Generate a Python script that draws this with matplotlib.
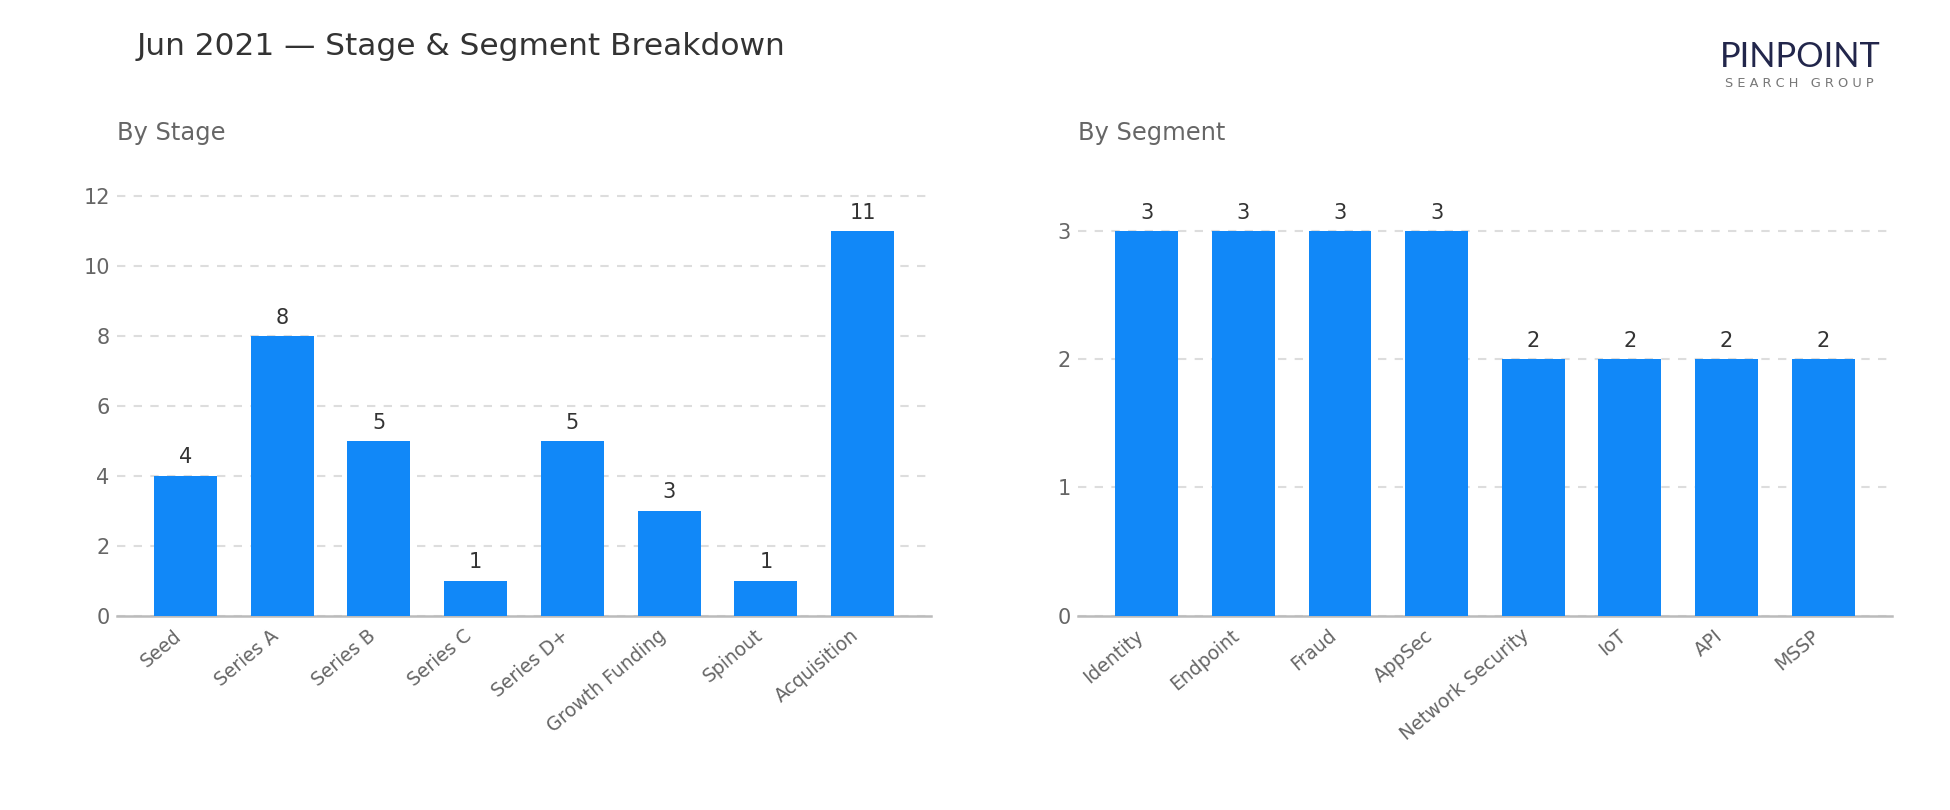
import matplotlib
matplotlib.use("Agg")
import matplotlib.pyplot as plt
import numpy as np

stages = ["Seed", "Series A", "Series B", "Series C", "Series D+",
          "Growth Funding", "Spinout", "Acquisition"]
stageCounts = [4, 8, 5, 1, 5, 3, 1, 11]

segments = ["Identity", "Endpoint", "Fraud", "AppSec", "Network Security",
            "IoT", "API", "MSSP"]
segmentCounts = [3, 3, 3, 3, 2, 2, 2, 2]

barColor = "#1188f8"
plt.rcParams["font.family"] = ["DejaVu Sans"]

fig = plt.figure(figsize=(13, 5.4), dpi=150)
axL = fig.add_axes([0.060, 0.240, 0.4175, 0.522])
axR = fig.add_axes([0.553, 0.240, 0.417, 0.522])


def drawBars(ax, labels, values, ticks):
    x = np.arange(len(labels))
    bars = ax.bar(x, values, 0.65, color=barColor, zorder=3)
    for b, v in zip(bars, values):
        ax.annotate(str(v), (b.get_x() + b.get_width() / 2, v),
                    xytext=(0, 4), textcoords="offset points",
                    ha="center", va="bottom", fontsize=10, color="#333333")
    ax.set_ylim(0, max(values) * 1.1)
    ax.set_yticks(ticks)
    ax.set_xticks(x)
    ax.set_xticklabels(labels, rotation=40, ha="right", fontsize=9)
    ax.grid(axis="y", linestyle=(0, (4, 4)), color="#dddddd", linewidth=1, zorder=0)
    for s in ["top", "right", "left"]:
        ax.spines[s].set_visible(False)
    ax.spines["bottom"].set_color("#bbbbbb")
    ax.spines["bottom"].set_linewidth(1.2)
    ax.tick_params(axis="y", length=0, labelsize=10, colors="#666666")
    ax.tick_params(axis="x", length=0, colors="#666666", pad=5)


drawBars(axL, stages, stageCounts, [0, 2, 4, 6, 8, 10, 12])
drawBars(axR, segments, segmentCounts, [0, 1, 2, 3])

fig.text(0.070, 0.943, "Jun 2021 \u2014 Stage & Segment Breakdown",
         fontsize=15, color="#333333", va="center", ha="left")
fig.text(0.060, 0.836, "By Stage", fontsize=11.6, color="#666666", va="center")
fig.text(0.553, 0.836, "By Segment", fontsize=11.6, color="#666666", va="center")

# logo
fig.text(0.923, 0.930, "PINPOINT", fontsize=16.5, color="#22264b",
         family=["Lato", "DejaVu Sans"], ha="center", va="center")
fig.text(0.923, 0.897, "S E A R C H   G R O U P", fontsize=6.2,
         color="#777777", ha="center", va="center")

fig.savefig("out.png", dpi=150)
